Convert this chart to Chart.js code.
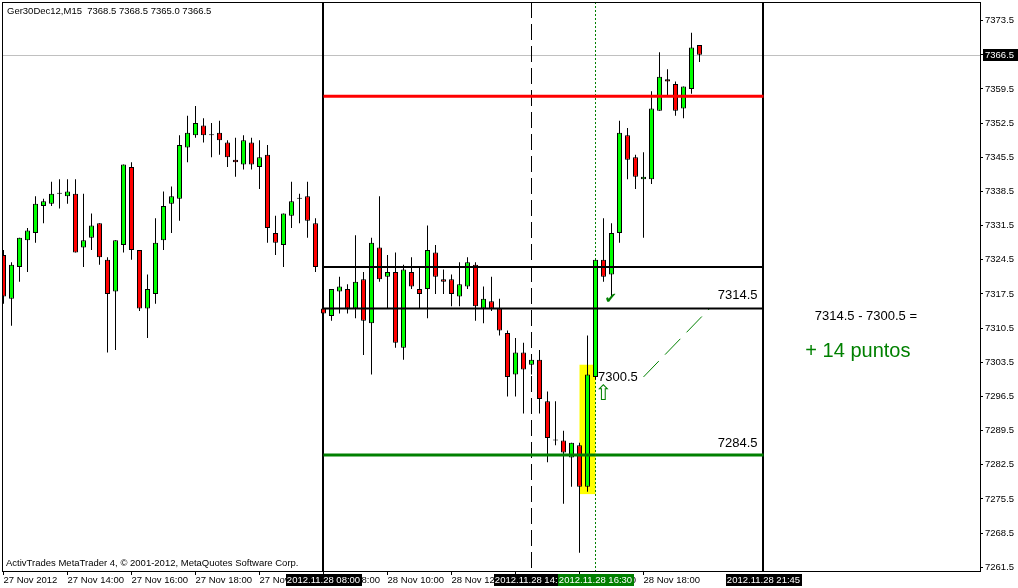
<!DOCTYPE html>
<html>
<head>
<meta charset="utf-8">
<title>Ger30Dec12,M15</title>
<script src="https://cdn.jsdelivr.net/npm/chart.js@4.4.1/dist/chart.umd.min.js"></script>
<style>
  html, body { margin: 0; padding: 0; background: #fff; }
  canvas { display: block; }
</style>
</head>
<body>
<canvas id="chart" width="1018" height="588"></canvas>
<script>
// M15 bars, index 0 = 27 Nov 12:00 ... index 39 = 27 Nov 21:45, index 40 = 28 Nov 08:00
const opens = [
  7325.5, 7316.5, 7323.0, 7328.5, 7330.0, 7335.5, 7336.0, 7338.0, 7337.5, 7338.0,
  7327.0, 7329.0, 7332.0, 7324.5, 7318.0, 7327.5, 7343.5, 7326.5, 7314.5, 7317.5,
  7328.5, 7336.0, 7337.0, 7347.5, 7350.0, 7352.0, 7350.0, 7350.5, 7348.5, 7345.0,
  7344.0, 7348.5, 7343.5, 7346.0, 7330.0, 7327.5, 7333.5, 7337.0, 7337.5, 7332.0,
  7314.5, 7313.0, 7318.0, 7318.5, 7314.5, 7320.5, 7311.5, 7327.0, 7321.0, 7322.0,
  7306.5, 7322.0, 7318.5, 7318.5, 7326.0, 7320.5, 7320.5, 7317.0, 7319.0, 7323.5,
  7314.5, 7316.0, 7314.5, 7309.5, 7301.0, 7305.5, 7303.0, 7304.0, 7295.5, 7287.5,
  7287.5, 7284.0, 7286.5, 7278.0, 7300.5, 7324.5, 7321.5, 7330.0, 7350.0, 7345.5,
  7341.0, 7341.0, 7355.0, 7361.5, 7360.5, 7355.5, 7359.5, 7368.5
];
const highs = [
  7326.5, 7324.0, 7329.0, 7331.0, 7337.5, 7337.0, 7340.5, 7341.0, 7341.0, 7341.0,
  7338.0, 7334.0, 7332.0, 7325.0, 7328.5, 7344.0, 7344.5, 7326.5, 7321.5, 7333.0,
  7338.5, 7339.5, 7350.0, 7354.0, 7356.0, 7353.5, 7352.5, 7353.0, 7349.0, 7349.5,
  7350.0, 7349.5, 7349.0, 7348.0, 7333.5, 7334.0, 7340.5, 7338.0, 7340.5, 7333.0,
  7315.0, 7318.5, 7321.0, 7319.5, 7329.5, 7322.0, 7329.0, 7337.5, 7325.5, 7326.0,
  7323.5, 7325.0, 7323.0, 7331.5, 7327.5, 7322.5, 7321.5, 7324.0, 7325.0, 7324.0,
  7319.0, 7321.0, 7316.5, 7310.0, 7308.5, 7307.5, 7305.0, 7306.0, 7297.5, 7295.5,
  7289.5, 7287.0, 7287.0, 7309.0, 7324.5, 7333.0, 7332.0, 7353.0, 7351.5, 7346.0,
  7346.5, 7359.0, 7367.0, 7363.5, 7361.0, 7360.0, 7371.0, 7368.5
];
const lows = [
  7315.5, 7311.0, 7320.0, 7322.0, 7328.0, 7332.0, 7335.5, 7335.0, 7336.0, 7326.0,
  7323.0, 7326.5, 7323.5, 7305.5, 7306.0, 7326.0, 7324.5, 7314.0, 7308.5, 7315.5,
  7326.5, 7330.0, 7332.5, 7344.5, 7349.5, 7348.5, 7345.5, 7346.0, 7343.5, 7341.5,
  7343.0, 7343.0, 7339.0, 7328.0, 7325.5, 7323.0, 7331.0, 7332.0, 7329.0, 7322.0,
  7313.0, 7312.0, 7313.5, 7313.5, 7312.5, 7305.0, 7301.0, 7320.0, 7314.5, 7306.5,
  7304.0, 7318.5, 7314.5, 7312.5, 7317.5, 7317.5, 7315.0, 7315.0, 7318.5, 7312.0,
  7311.5, 7314.0, 7309.0, 7296.5, 7296.5, 7293.0, 7301.0, 7293.0, 7283.0, 7286.5,
  7274.5, 7278.0, 7264.5, 7277.0, 7300.0, 7320.0, 7317.0, 7328.0, 7341.0, 7339.0,
  7329.0, 7340.0, 7355.0, 7358.0, 7354.0, 7353.5, 7358.5, 7365.0
];
const closes = [
  7317.0, 7323.5, 7329.0, 7330.5, 7336.0, 7336.5, 7338.0, 7338.0, 7338.5, 7326.0,
  7328.5, 7331.5, 7325.0, 7317.5, 7328.5, 7344.0, 7326.5, 7314.5, 7318.5, 7328.0,
  7335.5, 7337.5, 7348.0, 7350.5, 7352.5, 7350.0, 7350.0, 7349.0, 7345.5, 7344.5,
  7349.0, 7344.0, 7345.5, 7331.0, 7328.0, 7334.0, 7336.5, 7337.0, 7332.5, 7323.0,
  7313.5, 7318.5, 7319.0, 7314.5, 7320.0, 7312.0, 7328.0, 7320.5, 7322.0, 7307.5,
  7322.5, 7319.0, 7317.5, 7326.5, 7321.0, 7320.0, 7317.5, 7319.5, 7324.0, 7315.0,
  7316.5, 7314.5, 7310.0, 7300.5, 7305.5, 7302.0, 7304.0, 7296.0, 7288.0, 7287.5,
  7285.0, 7287.0, 7278.0, 7301.0, 7324.5, 7321.0, 7330.0, 7350.5, 7345.0, 7341.5,
  7341.5, 7355.5, 7362.0, 7361.0, 7355.0, 7360.0, 7368.0, 7366.5
];

const xTickIndex = [0, 8, 16, 24, 32, 40, 48, 56, 64, 72, 80];
const xTickLabels = [
  '27 Nov 2012', '27 Nov 14:00', '27 Nov 16:00', '27 Nov 18:00', '27 Nov 20:00',
  '28 Nov 08:00', '28 Nov 10:00', '28 Nov 12:00', '28 Nov 14:00', '28 Nov 16:00', '28 Nov 18:00'
];
const yTicks = [
  7261.5, 7268.5, 7275.5, 7282.5, 7289.5, 7296.5, 7303.5, 7310.5, 7317.5,
  7324.5, 7331.5, 7338.5, 7345.5, 7352.5, 7359.5, 7366.5, 7373.5
];

const bid = 7366.5;
const levels = [7358.0, 7323.0, 7314.5, 7284.5];
const levelFrom = 40;
const levelTo = 95;
const timeMarks = [40, 66, 74, 95];
const timeMarkLabels = ['2012.11.28 08:00', '2012.11.28 14:30', '2012.11.28 16:30', '2012.11.28 21:45'];
const trendX = [80, 88.25];
const trendY = [7300.5, 7314.5];
const boxX = [72, 74];
const boxY = [7276.5, 7303.0];

const GREEN = '#008000';
const FONT = "'Liberation Sans', Arial, sans-serif";

Chart.defaults.font.family = FONT;
Chart.defaults.font.size = 9.5;
Chart.defaults.color = '#000';

const levelStyles = [
  { color: '#ff0000', width: 3 },
  { color: '#000000', width: 2 },
  { color: '#000000', width: 2 },
  { color: GREEN, width: 3 }
];

const levelSets = levels.map((v, i) => ({
  type: 'line',
  data: [{ x: levelFrom, y: v }, { x: levelTo, y: v }],
  borderColor: levelStyles[i].color,
  borderWidth: levelStyles[i].width,
  borderCapStyle: 'butt',
  pointRadius: 0,
  fill: false
}));

const trendSet = {
  type: 'line',
  data: trendX.map((x, i) => ({ x: x, y: trendY[i] })),
  borderColor: GREEN,
  borderWidth: 1,
  borderDash: [22, 9],
  pointRadius: 0,
  fill: false
};

const bodySet = {
  type: 'bar',
  data: opens.map((o, i) => ({ x: i, y: [o, closes[i]] })),
  backgroundColor: opens.map((o, i) => closes[i] >= o ? '#00ff00' : '#ff0000'),
  borderColor: '#000',
  borderWidth: 1,
  borderSkipped: false,
  minBarLength: 1,
  maxBarThickness: 5,
  inflateAmount: 0,
  grouped: false
};

const wickSet = {
  type: 'bar',
  data: lows.map((l, i) => ({ x: i, y: [l, highs[i]] })),
  backgroundColor: '#000',
  borderWidth: 0,
  maxBarThickness: 1,
  inflateAmount: 0,
  grouped: false
};

function seg(ctx, x0, y0, x1, y1) {
  ctx.beginPath();
  ctx.moveTo(x0, y0);
  ctx.lineTo(x1, y1);
  ctx.stroke();
}

const markStyles = [
  { color: '#000', width: 2, dash: [], shift: -0.5 },
  { color: '#000', width: 1, dash: [16, 6], shift: 0 },
  { color: GREEN, width: 1, dash: [2, 2], shift: 0 },
  { color: '#000', width: 2, dash: [], shift: -0.5 }
];
const markBoxColors = ['#000', '#000', GREEN, '#000'];

const overlay = {
  id: 'overlay',
  beforeDatasetsDraw(chart) {
    const { ctx, chartArea: a, scales: { x, y } } = chart;
    ctx.save();
    // highlighted zone behind the candles
    const x0 = x.getPixelForValue(boxX[0]);
    const x1 = x.getPixelForValue(boxX[1]);
    const y0 = y.getPixelForValue(boxY[1]);
    const y1 = y.getPixelForValue(boxY[0]);
    ctx.fillStyle = '#ffff00';
    ctx.fillRect(x0, y0, x1 - x0, y1 - y0);
    // bid line
    ctx.strokeStyle = '#c0c0c0';
    ctx.lineWidth = 1;
    const yb = Math.round(y.getPixelForValue(bid)) + 0.5;
    seg(ctx, a.left, yb, a.right, yb);
    // vertical time lines
    timeMarks.forEach((t, i) => {
      const s = markStyles[i];
      const px = x.getPixelForValue(t) + s.shift;
      ctx.strokeStyle = s.color;
      ctx.lineWidth = s.width;
      ctx.setLineDash(s.dash);
      seg(ctx, px, a.top, px, a.bottom);
    });
    ctx.restore();
  },
  afterDatasetsDraw(chart) {
    const { ctx, scales: { x, y } } = chart;
    ctx.save();
    ctx.fillStyle = '#000';
    ctx.font = '13px ' + FONT;
    ctx.textBaseline = 'middle';
    ctx.textAlign = 'right';
    const xr = x.getPixelForValue(levelTo) - 6;
    ctx.fillText('7314.5', xr, y.getPixelForValue(levels[2]) - 13);
    ctx.fillText('7284.5', xr, y.getPixelForValue(levels[3]) - 12);
    ctx.textAlign = 'left';
    ctx.fillText('7300.5', x.getPixelForValue(timeMarks[2]) + 2.5, y.getPixelForValue(trendY[0]));
    ctx.textAlign = 'center';
    ctx.fillText('7314.5 - 7300.5 =', x.getPixelForValue(107.8), y.getPixelForValue(7312.8));
    ctx.fillStyle = GREEN;
    ctx.font = '20px ' + FONT;
    ctx.fillText('+ 14 puntos', x.getPixelForValue(106.8), y.getPixelForValue(7305.8));
    // entry arrow and check mark
    ctx.font = 'bold 15px "DejaVu Sans"';
    ctx.fillText('\u2714', x.getPixelForValue(75.9), y.getPixelForValue(7316.5));
    ctx.font = '21px "DejaVu Sans"';
    ctx.fillText('\u21E7', x.getPixelForValue(75.0), y.getPixelForValue(7296.8));
    ctx.restore();
  },
  afterDraw(chart) {
    const { ctx, chartArea: a, scales: { x, y } } = chart;
    ctx.save();
    // frame
    ctx.strokeStyle = '#000';
    ctx.lineWidth = 1;
    ctx.strokeRect(a.left + 0.5, a.top + 0.5, a.right - a.left, a.bottom - a.top);
    // texts
    ctx.fillStyle = '#000';
    ctx.font = '9.5px ' + FONT;
    ctx.textBaseline = 'middle';
    ctx.textAlign = 'left';
    ctx.fillText('Ger30Dec12,M15  7368.5 7368.5 7365.0 7366.5', 7, 11);
    ctx.fillText('ActivTrades MetaTrader 4, \u00A9 2001-2012, MetaQuotes Software Corp.', 6, 563);
    // time boxes on the x axis
    ctx.textAlign = 'center';
    timeMarks.forEach((t, i) => {
      const px = x.getPixelForValue(t);
      const w = Math.ceil(ctx.measureText(timeMarkLabels[i]).width) + 2;
      ctx.fillStyle = markBoxColors[i];
      ctx.fillRect(Math.round(px - w / 2), 574, w, 12);
      ctx.fillStyle = '#fff';
      ctx.fillText(timeMarkLabels[i], px, 580.5);
    });
    // current price box
    const yb = Math.round(y.getPixelForValue(bid));
    ctx.fillStyle = '#000';
    ctx.fillRect(983, yb - 6, 35, 12);
    ctx.fillStyle = '#fff';
    ctx.textAlign = 'left';
    ctx.fillText(bid.toFixed(1), 985, yb + 0.5);
    ctx.restore();
  }
};

new Chart(document.getElementById('chart'), {
  type: 'bar',
  data: {
    datasets: [...levelSets, trendSet, bodySet, wickSet]
  },
  options: {
    responsive: false,
    animation: false,
    events: [],
    layout: { padding: { left: 2, top: 2, right: 0, bottom: 0 } },
    plugins: {
      legend: { display: false },
      tooltip: { enabled: false }
    },
    scales: {
      x: {
        type: 'linear',
        min: -0.1875,
        max: 122.0625,
        offset: false,
        grid: { offset: false, drawOnChartArea: false, drawTicks: true, tickLength: 4, color: '#000' },
        border: { display: true, color: '#000' },
        ticks: {
          autoSkip: false,
          maxRotation: 0,
          align: 'start',
          padding: 0,
          callback: (v) => {
            const k = xTickIndex.indexOf(v);
            return k >= 0 ? xTickLabels[k] : '';
          }
        },
        afterBuildTicks: (scale) => { scale.ticks = xTickIndex.map(v => ({ value: v })); },
        afterFit: (scale) => {
          scale.height = 17;
          scale.paddingLeft = 0;
          scale.paddingRight = 0;
        }
      },
      y: {
        type: 'linear',
        position: 'right',
        min: 7260.75,
        max: 7377.3,
        grid: { drawOnChartArea: false, drawTicks: true, tickLength: 3, color: '#000' },
        border: { display: true, color: '#000' },
        ticks: {
          autoSkip: false,
          padding: 2,
          callback: (v) => Number(v).toFixed(1)
        },
        afterBuildTicks: (scale) => { scale.ticks = yTicks.map(v => ({ value: v })); },
        afterFit: (scale) => {
          scale.width = 38;
          scale.paddingTop = 0;
          scale.paddingBottom = 0;
        }
      }
    }
  },
  plugins: [overlay]
});
</script>
</body>
</html>
